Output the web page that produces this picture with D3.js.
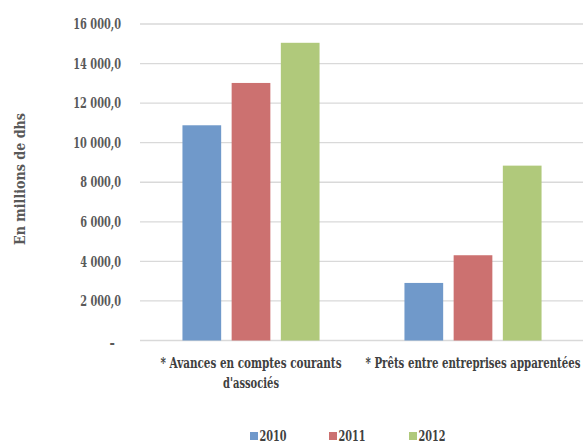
<!DOCTYPE html>
<html>
<head>
<meta charset="utf-8">
<script src="https://cdn.jsdelivr.net/npm/d3@7"></script>
<style>
  html, body { margin: 0; padding: 0; background: #fff; }
</style>
</head>
<body>
<svg id="chart" width="583" height="441"></svg>
<script>
// Catégories (chaque libellé est découpé en lignes)
const categories = ["* Avances en comptes courants d'associés", "* Prêts entre entreprises apparentées"];
const categoryLines = [["* Avances en comptes courants", "d'associés"], ["* Prêts entre entreprises apparentées"]];
const years = ["2010", "2011", "2012"];
const values2010 = [10880, 2910];
const values2011 = [13020, 4310];
const values2012 = [15050, 8840];
const yTicks = [0, 2000, 4000, 6000, 8000, 10000, 12000, 14000, 16000];
const yTitle = "En millions de dhs";
const colors = ["#7099CA", "#CC7170", "#B0C97B"];

const series = [values2010, values2011, values2012];
const FONT = "DejaVu Serif Condensed, DejaVu Serif";

const svg = d3.select("#chart");
const plotLeft = 140, plotRight = 584, plotTop = 24, plotBottom = 340.5;

const x0 = d3.scaleBand().domain(categories).range([plotLeft, plotRight]).padding(0);
const x1 = d3.scaleBand().domain(years).range([0, x0.bandwidth()])
  .paddingInner(0.213).paddingOuter(0.863);
const y = d3.scaleLinear().domain([0, 16000]).range([plotBottom, plotTop]);

const locale = d3.formatLocale({ decimal: ",", thousands: " ", grouping: [3], currency: ["", ""] });
const fmt = locale.format(",.1f");

// Police serif grasse, compressée à une largeur donnée (texte étroit type Times)
function styled(sel, size, color, width) {
  sel.attr("font-family", FONT)
     .attr("font-weight", "bold")
     .attr("font-size", size)
     .attr("fill", color);
  if (width) {
    sel.attr("textLength", width).attr("lengthAdjust", "spacingAndGlyphs");
  }
  return sel;
}

// Largeur d'une étiquette numérique : chiffres + espace et virgule
function numWidth(s) {
  const digits = (s.match(/[0-9]/g) || []).length;
  return digits * 6.9 + 6.3;
}

// Grille horizontale
svg.append("g")
  .selectAll("line")
  .data(yTicks)
  .join("line")
  .attr("x1", plotLeft).attr("x2", plotRight)
  .attr("y1", d => y(d)).attr("y2", d => y(d))
  .attr("stroke", "#D9D9D9")
  .attr("stroke-width", 1.3);

// Étiquettes de l'axe vertical
const gy = svg.append("g");
gy.selectAll("text")
  .data(yTicks)
  .join("text")
  .each(function (d) {
    const t = d3.select(this);
    const label = d === 0 ? "-" : fmt(d);
    styled(t, 14.5, "#595959", d === 0 ? null : numWidth(label))
      .attr("x", d === 0 ? 115 : 121)
      .attr("y", y(d))
      .attr("dy", d === 0 ? "0.55em" : "0.36em")
      .attr("text-anchor", "end")
      .text(label);
  });

// Barres
const groups = svg.append("g")
  .selectAll("g")
  .data(categories)
  .join("g")
  .attr("transform", d => `translate(${x0(d)},0)`);

groups.selectAll("rect")
  .data((c, i) => years.map((yr, k) => ({ yr, v: series[k][i], k })))
  .join("rect")
  .attr("x", d => x1(d.yr))
  .attr("width", x1.bandwidth())
  .attr("y", d => y(d.v))
  .attr("height", d => y(0) - y(d.v))
  .attr("fill", d => colors[d.k]);

// Libellés des catégories (une ligne par élément texte)
const lineWidths = { "* Avances en comptes courants": 181, "d'associés": 56, "* Prêts entre entreprises apparentées": 215 };
const catG = svg.append("g")
  .selectAll("g")
  .data(categories)
  .join("g");
catG.each(function (c, i) {
  const cx = x0(c) + x0.bandwidth() / 2;
  d3.select(this).selectAll("text")
    .data(categoryLines[i])
    .join("text")
    .each(function (line, j) {
      styled(d3.select(this), 14, "#404040", lineWidths[line])
        .attr("x", cx)
        .attr("y", 368 + j * 20)
        .attr("text-anchor", "middle")
        .text(line);
    });
});

// Titre de l'axe vertical
styled(svg.append("text"), 14, "#595959", 132)
  .attr("transform", "translate(25,179) rotate(-90)")
  .attr("text-anchor", "middle")
  .text(yTitle);

// Légende
const legendX = [250, 329, 409];
const legend = svg.append("g")
  .selectAll("g")
  .data(years)
  .join("g")
  .attr("transform", (d, i) => `translate(${legendX[i]},432)`);
legend.append("rect")
  .attr("width", 8).attr("height", 8)
  .attr("fill", (d, i) => colors[i]);
legend.append("text")
  .each(function (d) {
    styled(d3.select(this), 14, "#404040", 27)
      .attr("x", 9.5).attr("y", 8.5)
      .text(d);
  });
</script>
</body>
</html>
